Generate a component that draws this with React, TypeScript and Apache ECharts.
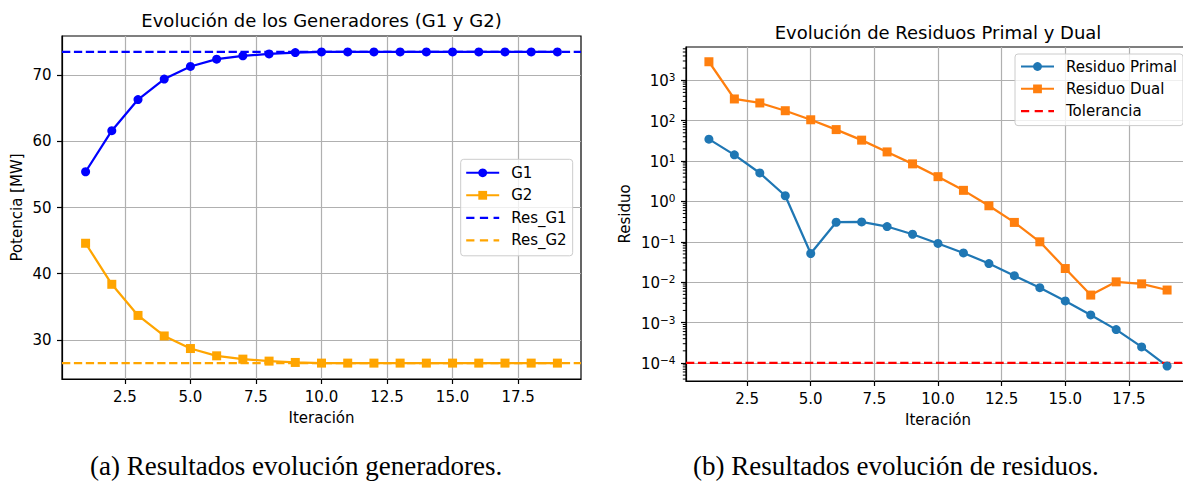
import React, { useEffect, useRef } from 'react';
import * as echarts from 'echarts';

// ---------- data ----------
const iterations = [1, 2, 3, 4, 5, 6, 7, 8, 9, 10, 11, 12, 13, 14, 15, 16, 17, 18, 19];
const g1 = [55.4, 61.6, 66.3, 69.4, 71.3, 72.4, 72.9, 73.2, 73.4, 73.5, 73.5, 73.5, 73.5, 73.5, 73.5, 73.5, 73.5, 73.5, 73.5];
const g2 = [44.6, 38.4, 33.7, 30.6, 28.7, 27.6, 27.1, 26.8, 26.6, 26.5, 26.5, 26.5, 26.5, 26.5, 26.5, 26.5, 26.5, 26.5, 26.5];
const resG1 = 73.5;
const resG2 = 26.5;
const primal = [34.8, 14.2, 5.06, 1.38, 0.0514, 0.305, 0.31, 0.239, 0.154, 0.091, 0.053, 0.029, 0.0145, 0.0073, 0.00344, 0.00155, 0.00067, 0.00025, 0.000084];
const dual = [2870, 344, 274, 176, 105, 60, 32.9, 16.8, 8.5, 4.1, 1.88, 0.78, 0.302, 0.1, 0.0218, 0.0048, 0.0102, 0.0091, 0.0064];
const tolerance = 1e-4;

const xTicks = [2.5, 5, 7.5, 10, 12.5, 15, 17.5];
const yTicksLeft = [30, 40, 50, 60, 70];
const yTicksLog = [1e-4, 1e-3, 1e-2, 1e-1, 1, 10, 100, 1000];

const titleLeft = 'Evolución de los Generadores (G1 y G2)';
const titleRight = 'Evolución de Residuos Primal y Dual';
const captionLeft = '(a) Resultados evolución generadores.';
const captionRight = '(b) Resultados evolución de residuos.';

// ---------- styling ----------
const FONT = '"DejaVu Sans", sans-serif';
const SERIF = '"Liberation Serif", "Times New Roman", serif';
const DASH = [8.3, 3.6];
const LW = 2.25;
const DASH_ICON = 'path://M0,0h8.3v2.25h-8.3z M13.8,0h8.3v2.25h-8.3z M27.6,0h5.7v2.25h-5.7z';

const X_MIN = 0.1, X_MAX = 19.9;
const YL_MIN = 24.1, YL_MAX = 75.9;
const LOG_MIN = -4.446, LOG_MAX = 3.823;

// minor tick positions of the log axis (2..9 x 10^n), real values
const minorLogTicks: number[] = [];
for (let n = -5; n <= 3; n++) {
  for (let k = 2; k <= 9; k++) {
    const v = k * Math.pow(10, n);
    const lv = Math.log10(v);
    if (lv >= LOG_MIN && lv <= LOG_MAX) minorLogTicks.push(v);
  }
}

const pairs = (ys: number[]) => iterations.map((x, i) => [x, ys[i]]);
const hLine = (y: number) => [[X_MIN, y], [X_MAX, y]];

const xAxisFor = (gridIndex: number) => ({
  type: 'value',
  gridIndex,
  min: X_MIN,
  max: X_MAX,
  minInterval: 2.5,
  maxInterval: 2.5,
  name: 'Iteración',
  nameLocation: 'middle',
  nameGap: 31,
  nameTextStyle: { fontFamily: FONT, fontSize: 15, color: '#000' },
  axisLine: { show: true, onZero: false, lineStyle: { color: '#000', width: 1.2 } },
  axisTick: { show: true, length: 5, customValues: xTicks, lineStyle: { color: '#000', width: 1.2 } },
  axisLabel: {
    show: true,
    customValues: xTicks,
    color: '#000',
    fontFamily: FONT,
    fontSize: 15,
    margin: 10,
    formatter: (v: number) => v.toFixed(1),
  },
  splitLine: { show: true, lineStyle: { color: '#b0b0b0', width: 1.2 } },
});

const lineSeries = (name: string, xi: number, yi: number, data: number[][], color: string, symbol: string) => ({
  name,
  type: 'line',
  xAxisIndex: xi,
  yAxisIndex: yi,
  data,
  symbol,
  symbolSize: 9,
  showAllSymbol: true,
  lineStyle: { color, width: LW },
  itemStyle: { color, borderWidth: 0 },
  emphasis: { disabled: true },
});

const refSeries = (name: string, xi: number, yi: number, value: number, color: string) => ({
  name,
  type: 'line',
  xAxisIndex: xi,
  yAxisIndex: yi,
  data: hLine(value),
  symbol: 'none',
  lineStyle: { color, width: LW, type: DASH },
  itemStyle: { color },
  emphasis: { disabled: true },
});

const legendBase = {
  orient: 'vertical',
  itemWidth: 33,
  itemHeight: 11,
  itemGap: 7.5,
  selectedMode: false,
  backgroundColor: 'rgba(255,255,255,0.8)',
  borderColor: '#cccccc',
  borderWidth: 1,
  borderRadius: 3,
  textStyle: { fontFamily: FONT, fontSize: 15, color: '#000', padding: [0, 0, 0, 7] },
};

const option = {
  animation: false,
  backgroundColor: '#ffffff',
  grid: [
    { left: 62, top: 36, width: 519, height: 343, show: true, borderColor: '#000', borderWidth: 1.2, backgroundColor: 'transparent', containLabel: false, outerBoundsMode: 'none' },
    { left: 686, top: 47, width: 504, height: 334, show: true, borderColor: '#000', borderWidth: 1.2, backgroundColor: 'transparent', containLabel: false, outerBoundsMode: 'none' },
  ],
  xAxis: [xAxisFor(0), xAxisFor(1)],
  yAxis: [
    {
      type: 'value',
      gridIndex: 0,
      min: YL_MIN,
      max: YL_MAX,
      minInterval: 10,
      maxInterval: 10,
      name: 'Potencia [MW]',
      nameLocation: 'middle',
      nameGap: 37.5,
      nameTextStyle: { fontFamily: FONT, fontSize: 15, color: '#000' },
      axisLine: { show: true, onZero: false, lineStyle: { color: '#000', width: 1.2 } },
      axisTick: { show: true, length: 5, customValues: yTicksLeft, lineStyle: { color: '#000', width: 1.2 } },
      axisLabel: { show: true, customValues: yTicksLeft, color: '#000', fontFamily: FONT, fontSize: 15, margin: 10.5 },
      splitLine: { show: true, lineStyle: { color: '#b0b0b0', width: 1.2 } },
    },
    {
      type: 'log',
      logBase: 10,
      gridIndex: 1,
      min: Math.pow(10, LOG_MIN),
      max: Math.pow(10, LOG_MAX),
      name: 'Residuo',
      nameLocation: 'middle',
      nameGap: 53.5,
      nameTextStyle: { fontFamily: FONT, fontSize: 15, color: '#000' },
      axisLine: { show: true, onZero: false, lineStyle: { color: '#000', width: 1.2 } },
      axisTick: { show: true, length: 5, customValues: yTicksLog, lineStyle: { color: '#000', width: 1.2 } },
      axisLabel: {
        show: true,
        customValues: yTicksLog,
        margin: 10.5,
        formatter: (v: number) => {
          const e = Math.round(Math.log10(v));
          const s = e < 0 ? '\u2212' + String(-e) : String(e);
          return '{b|10}{s|' + s + '}';
        },
        rich: {
          b: { fontFamily: FONT, fontSize: 15, color: '#000', verticalAlign: 'bottom', lineHeight: 17 },
          s: { fontFamily: FONT, fontSize: 10.5, color: '#000', verticalAlign: 'top', lineHeight: 17 },
        },
      },
      splitLine: { show: true, lineStyle: { color: '#b0b0b0', width: 1.2 } },
    },
  ],
  legend: [
    {
      ...legendBase,
      left: 460.7,
      top: 159.3,
      padding: [6, 6, 8, 4.5],
      data: [
        { name: 'G1' },
        { name: 'G2' },
        { name: 'Res_G1', icon: DASH_ICON },
        { name: 'Res_G2', icon: DASH_ICON },
      ],
    },
    {
      ...legendBase,
      left: 1015,
      top: 54,
      itemGap: 7.3,
      padding: [5, 6, 7, 5],
      data: [
        { name: 'Residuo Primal' },
        { name: 'Residuo Dual' },
        { name: 'Tolerancia', icon: DASH_ICON },
      ],
    },
  ],
  series: [
    lineSeries('G1', 0, 0, pairs(g1), '#0000ff', 'circle'),
    lineSeries('G2', 0, 0, pairs(g2), '#ffa500', 'rect'),
    refSeries('Res_G1', 0, 0, resG1, '#0000ff'),
    refSeries('Res_G2', 0, 0, resG2, '#ffa500'),
    lineSeries('Residuo Primal', 1, 1, pairs(primal), '#1f77b4', 'circle'),
    lineSeries('Residuo Dual', 1, 1, pairs(dual), '#ff7f0e', 'rect'),
    refSeries('Tolerancia', 1, 1, tolerance, '#ff0000'),
    {
      name: 'minorTicks',
      type: 'custom',
      xAxisIndex: 1,
      yAxisIndex: 1,
      clip: false,
      silent: true,
      z: 10,
      data: minorLogTicks.map((v) => [X_MIN, v]),
      encode: { x: 0, y: 1 },
      renderItem: (_params: any, api: any) => {
        const p = api.coord([api.value(0), api.value(1)]);
        return {
          type: 'rect',
          shape: { x: p[0] - 3.2, y: p[1] - 0.5, width: 3.2, height: 1 },
          style: { fill: '#000000' },
        };
      },
    },
  ],
  graphic: [
    { type: 'text', x: 321.5, y: 20, style: { text: titleLeft, fontFamily: FONT, fontSize: 18, fill: '#000', align: 'center', verticalAlign: 'middle' } },
    { type: 'text', x: 938, y: 32.3, style: { text: titleRight, fontFamily: FONT, fontSize: 18, fill: '#000', align: 'center', verticalAlign: 'middle' } },
    { type: 'text', x: 90, y: 466, style: { text: captionLeft, fontFamily: SERIF, fontSize: 27, fill: '#000', align: 'left', verticalAlign: 'middle' } },
    { type: 'text', x: 693, y: 466, style: { text: captionRight, fontFamily: SERIF, fontSize: 27, fill: '#000', align: 'left', verticalAlign: 'middle' } },
  ],
};

export default function App() {
  const ref = useRef<HTMLDivElement>(null);
  useEffect(() => {
    if (!ref.current) return;
    const chart = echarts.init(ref.current, null, { renderer: 'svg' });
    chart.setOption(option as any);
    return () => chart.dispose();
  }, []);
  return (
    <div
      ref={ref}
      style={{ position: 'absolute', left: 0, top: 0, width: 1183, height: 483, background: '#fff' }}
    />
  );
}
